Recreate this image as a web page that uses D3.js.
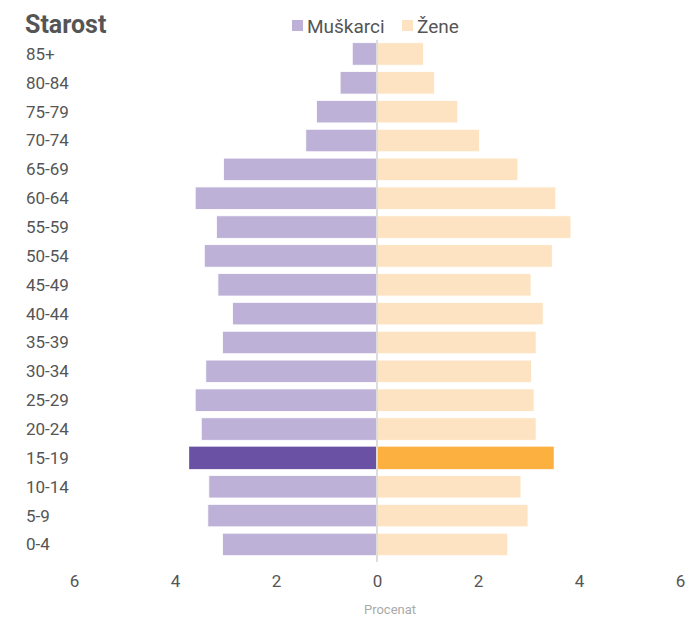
<!DOCTYPE html>
<html>
<head>
<meta charset="utf-8">
<script src="https://cdn.jsdelivr.net/npm/d3@7"></script>
<style>
  body { margin: 0; background: #fff; }
  svg text { font-family: "Roboto", "Liberation Sans", sans-serif; }
</style>
</head>
<body>
<svg id="chart" width="689" height="617"></svg>
<script>
// age groups, top to bottom
const ageGroups = ['85+', '80-84', '75-79', '70-74', '65-69', '60-64', '55-59', '50-54', '45-49',
    '40-44', '35-39', '30-34', '25-29', '20-24', '15-19', '10-14', '5-9', '0-4']
const male = [0.49, 0.73, 1.20, 1.41, 3.04, 3.60, 3.18, 3.42, 3.15,
    2.86, 3.06, 3.39, 3.60, 3.48, 3.72, 3.33, 3.35, 3.06]
const female = [0.92, 1.14, 1.60, 2.03, 2.79, 3.54, 3.84, 3.47, 3.05,
    3.29, 3.15, 3.06, 3.11, 3.15, 3.50, 2.85, 2.99, 2.59]
const highlight = '15-19'
const xTicks = [-6, -4, -2, 0, 2, 4, 6]

const colors = {
    male: '#bdb1d8', maleHi: '#6a51a3',
    female: '#fde3c1', femaleHi: '#fbb040'
}

var svg = d3.select('#chart')

var x = d3.scaleLinear().domain([-6, 6]).range([74, 680])
var y = d3.scaleBand().domain(ageGroups).range([42.7, 555.7]).paddingInner(0.22).paddingOuter(0)

// male bars (left)
svg.append('g').selectAll('rect')
    .data(ageGroups)
    .join('rect')
    .attr('x', (d, i) => x(-male[i]))
    .attr('y', d => y(d))
    .attr('width', (d, i) => x(0) - x(-male[i]))
    .attr('height', y.bandwidth())
    .attr('fill', d => d === highlight ? colors.maleHi : colors.male)
    .attr('stroke', d => d === highlight ? 'none' : '#fff')
    .attr('stroke-width', 0.8)

// female bars (right)
svg.append('g').selectAll('rect')
    .data(ageGroups)
    .join('rect')
    .attr('x', x(0))
    .attr('y', d => y(d))
    .attr('width', (d, i) => x(female[i]) - x(0))
    .attr('height', y.bandwidth())
    .attr('fill', d => d === highlight ? colors.femaleHi : colors.female)
    .attr('stroke', d => d === highlight ? 'none' : '#fff')
    .attr('stroke-width', 0.8)

// zero line
svg.append('line')
    .attr('x1', x(0)).attr('x2', x(0))
    .attr('y1', 40).attr('y2', 562)
    .attr('stroke', '#ddd')
    .attr('stroke-width', 2)

// age labels
svg.append('g').selectAll('text')
    .data(ageGroups)
    .join('text')
    .attr('x', 26)
    .attr('y', d => y(d) + y.bandwidth() / 2)
    .attr('dy', '0.35em')
    .attr('font-size', 17)
    .attr('fill', '#555')
    .text(d => d)

// x axis
const xAxis = d3.axisBottom(x).tickValues(xTicks).tickFormat(d => Math.abs(d)).tickSize(0).tickPadding(0)
const gX = svg.append('g')
    .attr('transform', 'translate(0,575)')
    .call(xAxis)
gX.select('.domain').remove()
gX.selectAll('text')
    .attr('font-size', 17)
    .attr('fill', '#555')
    .attr('font-family', '"Roboto", "Liberation Sans", sans-serif')

svg.append('text')
    .attr('x', x(0) + 13)
    .attr('y', 614)
    .attr('text-anchor', 'middle')
    .attr('font-size', 13)
    .attr('fill', '#aaa')
    .text('Procenat')

// title
svg.append('text')
    .attr('x', 25)
    .attr('y', 33)
    .attr('font-size', 25)
    .attr('font-weight', 'bold')
    .attr('fill', '#555')
    .text('Starost')

// legend
const legend = [
    {label: 'Muškarci', color: colors.male, x: 292},
    {label: 'Žene', color: colors.female, x: 402}
]
const lg = svg.append('g').selectAll('g')
    .data(legend)
    .join('g')
    .attr('transform', d => 'translate(' + d.x + ',0)')
lg.append('rect')
    .attr('y', 20).attr('width', 11).attr('height', 11)
    .attr('fill', d => d.color)
lg.append('text')
    .attr('x', 15)
    .attr('y', 33)
    .attr('font-size', 19)
    .attr('fill', '#555')
    .text(d => d.label)
</script>
</body>
</html>
